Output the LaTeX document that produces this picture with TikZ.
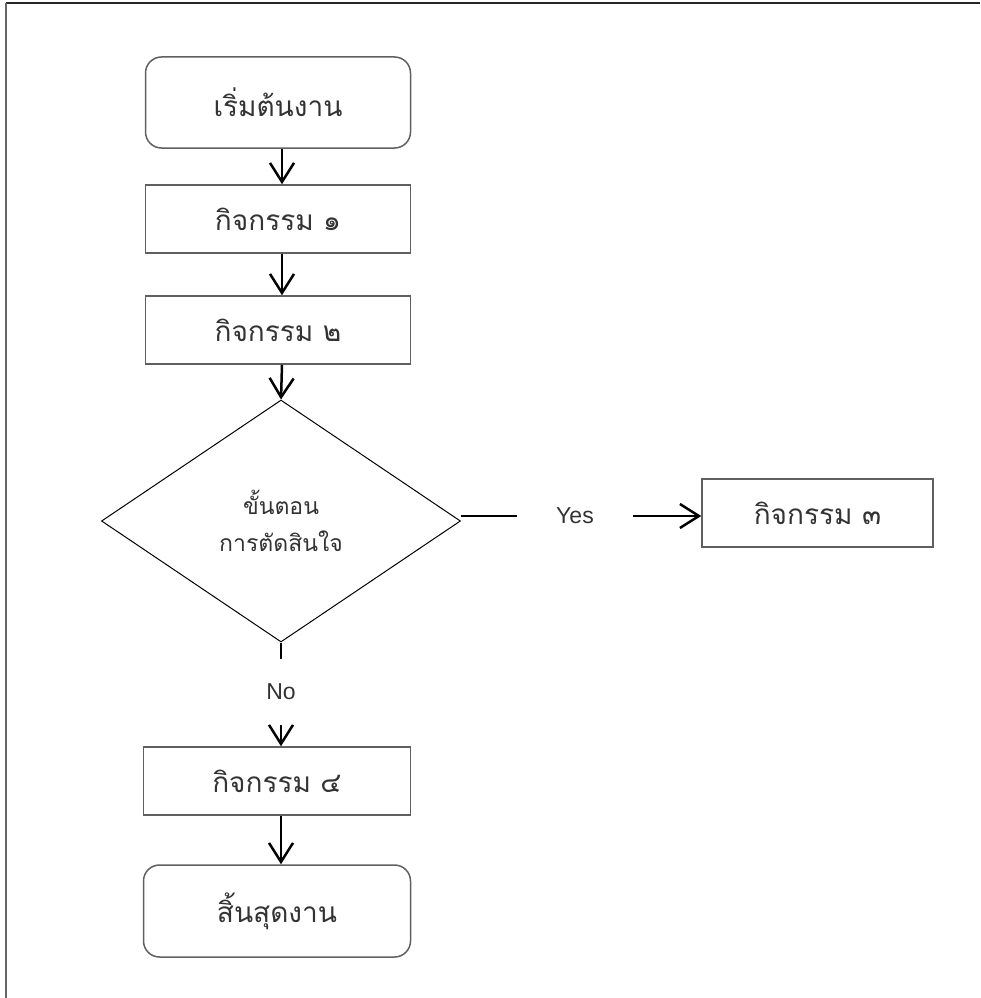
\documentclass[tikz,border=0pt]{standalone}
\usepackage{fontspec}
\setmainfont{Liberation Sans}
\newfontfamily\thaifont[Script=Thai]{Loma}
\usetikzlibrary{shapes.geometric,arrows.meta}
\definecolor{boxgray}{HTML}{606060}
\definecolor{txtgray}{HTML}{333333}
\tikzset{
  procbox/.style={draw=boxgray,line width=1.5pt,minimum width=265pt,minimum height=68pt,inner sep=0pt,font=\thaifont\fontsize{28}{32}\selectfont,text=txtgray},
  termbox/.style={procbox,rounded corners=16pt,minimum height=91pt},
  decbox/.style={draw=black,line width=1pt,diamond,minimum width=359pt,minimum height=242pt,inner sep=0pt,align=center,font=\thaifont\fontsize{23}{37}\selectfont,text=txtgray},
  flow/.style={line width=2.5pt,-{Straight Barb[length=19pt,width=24pt,line width=2.5pt]}},
  plain/.style={line width=2.5pt},
  lbl/.style={font=\fontsize{23}{27}\selectfont,text=txtgray,inner sep=0pt}
}
\begin{document}
\begin{tikzpicture}[x=1pt,y=-1pt]
\useasboundingbox (0,0) rectangle (980,998);
\coordinate (ftl) at (6,3);
\coordinate (ftr) at (980,3);
\coordinate (fbl) at (6,998);
\draw[line width=2pt,black!85] (ftl) -- (ftr);
\draw[line width=2pt,black!60] (ftl) -- (fbl);

\node[termbox] (start) at (278,102.5) {เริ่มต้นงาน};
\node[procbox] (a1) at (278,219) {กิจกรรม ๑};
\node[procbox] (a2) at (278,330) {กิจกรรม ๒};
\node[decbox] (dec) at (281,521) {ขั้นตอน\\การตัดสินใจ};
\node[procbox,minimum width=231pt] (a3) at (817.5,513) {กิจกรรม ๓};
\node[lbl,minimum width=116pt,minimum height=20pt] (yes) at (575,516) {Yes};
\node[lbl,minimum height=66pt] (no) at (281,692) {No};
\node[procbox,minimum width=267pt] (a4) at (277,781) {กิจกรรม ๔};
\node[termbox,minimum width=267pt,minimum height=92pt] (end) at (277,911) {สิ้นสุดงาน};

\draw[flow] (start.south -| 282,0) -- (a1.north -| 282,0);
\draw[flow] (a1.south -| 282,0) -- (a2.north -| 282,0);
\draw[flow] (a2.south -| 282,0) -- (dec.north);
\draw[plain] (dec.east |- yes.west) -- (yes.west);
\draw[flow] (yes.east) -- (a3.west |- yes.east);
\draw[plain] (dec.south) -- (no.north);
\draw[flow] (no.south) -- (a4.north -| no.south);
\draw[flow] (a4.south -| no.south) -- (end.north -| no.south);
\end{tikzpicture}
\end{document}
